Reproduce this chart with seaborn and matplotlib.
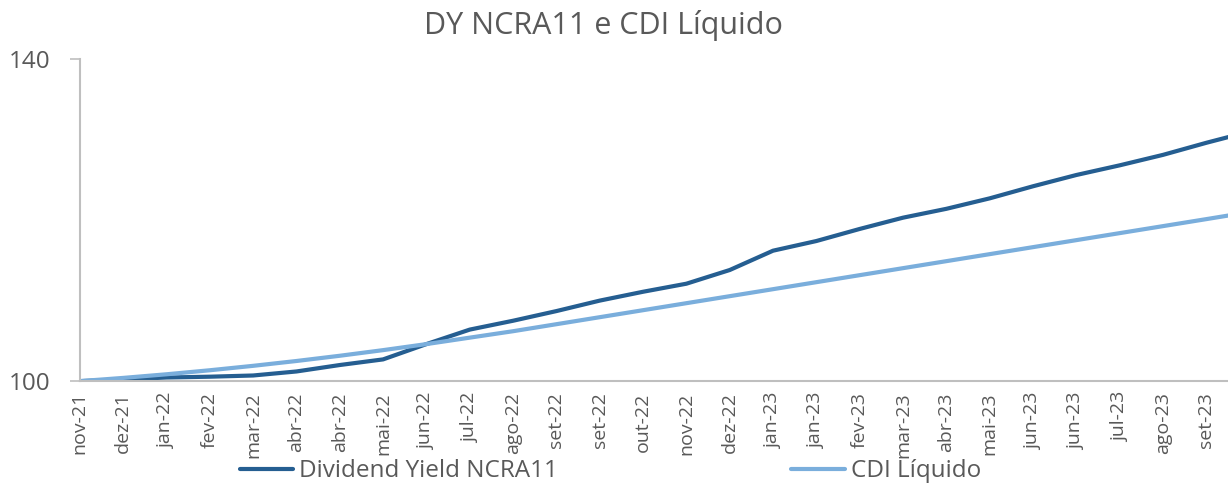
import matplotlib.pyplot as plt
import pandas as pd
import seaborn as sns

# Rótulos do eixo x (como no gráfico original)
meses = ['nov-21', 'dez-21', 'jan-22', 'fev-22', 'mar-22', 'abr-22', 'abr-22',
         'mai-22', 'jun-22', 'jul-22', 'ago-22', 'set-22', 'set-22', 'out-22',
         'nov-22', 'dez-22', 'jan-23', 'jan-23', 'fev-23', 'mar-23', 'abr-23',
         'mai-23', 'jun-23', 'jun-23', 'jul-23', 'ago-23', 'set-23']

# Séries (base 100); último ponto fica além do último rótulo
dy_ncra11 = [100.0, 100.2, 100.45, 100.55, 100.7, 101.2, 102.0, 102.7, 104.6,
             106.4, 107.5, 108.7, 110.0, 111.1, 112.1, 113.8, 116.2, 117.4,
             118.9, 120.3, 121.4, 122.7, 124.2, 125.6, 126.8, 128.1, 129.6, 131.0]
cdi_liquido = [100.0, 100.4, 100.85, 101.35, 101.9, 102.5, 103.15, 103.85, 104.6,
               105.4, 106.2, 107.07, 107.94, 108.81, 109.68, 110.55, 111.42, 112.29,
               113.16, 114.03, 114.9, 115.77, 116.64, 117.51, 118.38, 119.25, 120.12, 121.0]

df = pd.DataFrame({
    'pos': list(range(len(dy_ncra11))) * 2,
    'valor': dy_ncra11 + cdi_liquido,
    'serie': ['Dividend Yield NCRA11'] * len(dy_ncra11) + ['CDI Líquido'] * len(cdi_liquido),
})

sns.set_style('white')
plt.rcParams['font.family'] = ['Open Sans', 'DejaVu Sans']

cinza = '#595959'
fig = plt.figure(figsize=(12.28, 4.88), dpi=100)
ax = fig.add_axes([0.065, 0.219, 0.935, 0.660])

sns.lineplot(data=df, x='pos', y='valor', hue='serie', ax=ax,
             palette={'Dividend Yield NCRA11': '#255E91', 'CDI Líquido': '#7AAEDC'},
             linewidth=3, legend=False)

ax.set_xlim(0, 26.5)
ax.set_ylim(100, 140)
ax.set_yticks([100, 140])
ax.set_xticks(range(len(meses)))
ax.set_xticklabels(meses, rotation=90, fontsize=14, color=cinza)
ax.tick_params(axis='y', labelsize=17.5, labelcolor=cinza, length=7, color='#bfbfbf',
               width=1.2, left=True, pad=14)
ax.tick_params(axis='x', length=0, pad=8)
ax.set_xlabel('')
ax.set_ylabel('')

for lado in ['top', 'right']:
    ax.spines[lado].set_visible(False)
for lado in ['left', 'bottom']:
    ax.spines[lado].set_color('#bfbfbf')
    ax.spines[lado].set_linewidth(1.5)

fig.suptitle('DY NCRA11 e CDI Líquido', fontsize=22, color=cinza, x=0.491, y=0.98)

# Legenda abaixo do gráfico
linhas = ax.get_lines()
fig.legend([linhas[0], linhas[1]], ['Dividend Yield NCRA11', 'CDI Líquido'],
           loc='center', bbox_to_anchor=(0.497, 0.034), ncol=2, frameon=False,
           fontsize=17.5, labelcolor=cinza, columnspacing=9.6, handlelength=2.2,
           handletextpad=0.25, borderpad=0.1)

fig.savefig('out.png', dpi=100)
